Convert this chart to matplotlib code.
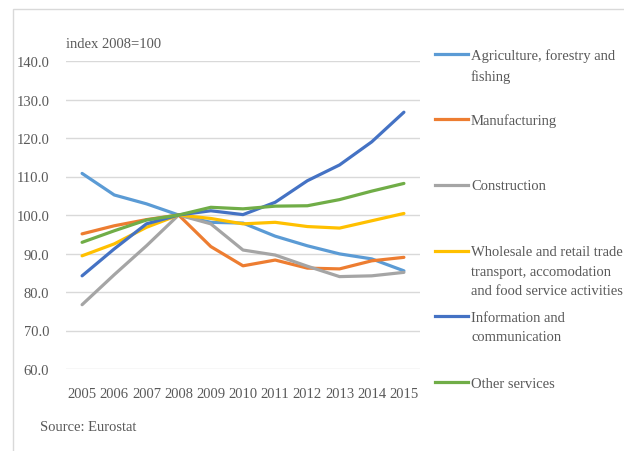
import matplotlib.pyplot as plt
from matplotlib.lines import Line2D
from matplotlib.patches import Rectangle

plt.rcParams['font.family'] = ['Liberation Serif', 'DejaVu Serif']

years = ["2005", "2006", "2007", "2008", "2009", "2010", "2011", "2012", "2013", "2014", "2015"]

agri = [110.8, 105.2, 102.9, 100.0, 98.1, 97.9, 94.5, 92.0, 89.9, 88.6, 85.5]
manuf = [95.1, 97.2, 98.8, 100.0, 91.8, 86.8, 88.3, 86.2, 86.0, 88.1, 89.0]
constr = [76.7, 84.5, 92.0, 100.0, 97.7, 90.9, 89.6, 86.7, 84.0, 84.2, 85.1]
trade = [89.4, 92.5, 96.8, 100.0, 99.1, 97.7, 98.1, 97.0, 96.6, 98.5, 100.4]
info = [84.2, 91.2, 97.7, 100.0, 101.1, 100.1, 103.3, 108.9, 113.0, 119.0, 126.7]
other = [92.9, 95.9, 98.7, 100.0, 102.0, 101.6, 102.3, 102.4, 104.0, 106.2, 108.2]

labels = ["Agriculture, forestry and\nfishing",
          "Manufacturing",
          "Construction",
          "Wholesale and retail trade\ntransport, accomodation\nand food service activities",
          "Information and\ncommunication",
          "Other services"]
colors = ["#5b9bd5", "#ed7d31", "#a5a5a5", "#ffc000", "#4472c4", "#70ad47"]
series = [agri, manuf, constr, trade, info, other]

txt = "#595959"

fig = plt.figure(figsize=(6.24, 4.52), dpi=100)
ax = fig.add_axes([66/624, 1-370/452, 354/624, 308/452])

x = list(range(len(years)))
for s, c in zip(series, colors):
    ax.plot(x, s, color=c, lw=2.3, solid_capstyle='round', solid_joinstyle='round')

ax.set_ylim(60, 140)
ax.set_yticks(range(60, 141, 10))
ax.set_yticklabels(["%.1f" % v for v in range(60, 141, 10)])
ax.set_xlim(-0.5, 10.5)
ax.set_xticks(x)
ax.set_xticklabels(years)
ax.grid(axis='y', color='#d9d9d9', lw=1)
ax.set_axisbelow(True)
for sp in ax.spines.values():
    sp.set_visible(False)
ax.tick_params(length=0, labelsize=10.5, labelcolor=txt)
ax.tick_params(axis='y', pad=12)
ax.tick_params(axis='x', pad=13)

fig.text(66/624, 1-44/452, "index 2008=100", fontsize=10.5, color=txt, va='center')
fig.text(40/624, 1-428/452, "Source: Eurostat", fontsize=10.5, color=txt, va='center')

# legend drawn by hand to match the spacing
key_y = [55, 120, 186, 252, 317, 383]
for lab, c, ky in zip(labels, colors, key_y):
    yy = 1 - ky/452
    fig.add_artist(Line2D([435/624, 468/624], [yy, yy], color=c, lw=2.3,
                          transform=fig.transFigure))
    fig.text(471/624, yy + 5.5/452, lab, fontsize=10.5, color=txt,
             va='top', linespacing=1.62)

# chart border
fig.add_artist(Rectangle((13/624, -0.1), 1.0, 1.1 - 10/452, fill=False,
                         edgecolor='#d9d9d9', lw=1, transform=fig.transFigure))

fig.savefig("out.png", dpi=100)
